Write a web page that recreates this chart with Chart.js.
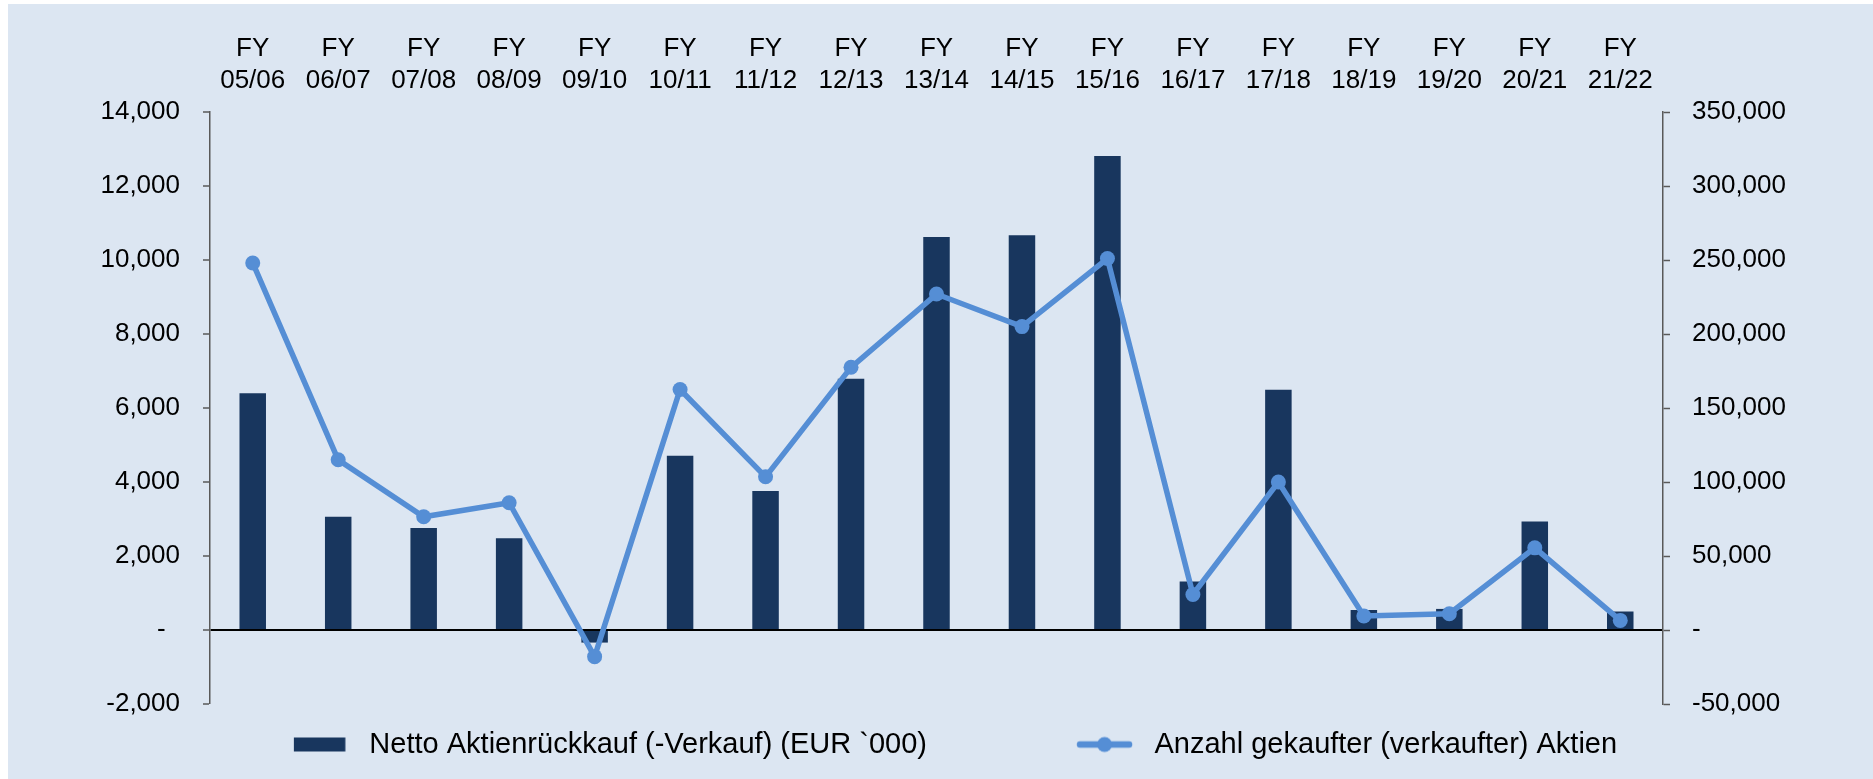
<!DOCTYPE html>
<html>
<head>
<meta charset="utf-8">
<script src="https://cdn.jsdelivr.net/npm/chart.js@4/dist/chart.umd.min.js"></script>
<style>
  html, body { margin: 0; padding: 0; background: #ffffff; }
  #wrap { position: absolute; left: 0; top: 0; width: 1873px; height: 779px; }
</style>
</head>
<body>
<div id="wrap"><canvas id="c" width="1873" height="779"></canvas></div>
<script>
// ---- data ----
const fiscalYears = ["05/06","06/07","07/08","08/09","09/10","10/11","11/12","12/13","13/14","14/15","15/16","16/17","17/18","18/19","19/20","20/21","21/22"];
const netBuyback = [6400, 3060, 2760, 2480, -340, 4710, 3760, 6790, 10620, 10670, 12810, 1310, 6490, 540, 570, 2930, 500];
const sharesBought = [248000, 115000, 76500, 86000, -18000, 162500, 103500, 177500, 227000, 205000, 251000, 24000, 100000, 9500, 11000, 55500, 6500];
const leftTicks = [-2000, 0, 2000, 4000, 6000, 8000, 10000, 12000, 14000];
const rightTicks = [-50000, 0, 50000, 100000, 150000, 200000, 250000, 300000, 350000];
const seriesNames = ["Netto Aktienrückkauf (-Verkauf) (EUR `000)", "Anzahl gekaufter (verkaufter) Aktien"];

const NAVY = '#18365E';
const LIGHT = '#558ED5';
const FONT = "'Liberation Sans', Arial, sans-serif";

Chart.defaults.font.family = FONT;
Chart.defaults.color = '#000000';

const labels = fiscalYears.map(f => ['FY', f]);
const fmt = v => v === 0 ? '-' : v.toLocaleString('en-US');

// legend images
const LW = 203;
function makeBoxImg() {
  const c = document.createElement('canvas');
  c.width = LW; c.height = 24;
  const g = c.getContext('2d');
  g.fillStyle = NAVY;
  g.fillRect(142, 5, 51.5, 14);
  return c;
}
function makeLineImg() {
  const c = document.createElement('canvas');
  c.width = LW; c.height = 24;
  const g = c.getContext('2d');
  g.strokeStyle = LIGHT; g.lineWidth = 6.5; g.lineCap = 'round';
  g.beginPath(); g.moveTo(143, 12); g.lineTo(192, 12); g.stroke();
  g.fillStyle = LIGHT;
  g.beginPath(); g.arc(167.5, 12, 7.5, 0, Math.PI * 2); g.fill();
  return c;
}
const boxImg = makeBoxImg();
const lineImg = makeLineImg();

const bgPlugin = {
  id: 'bg',
  beforeDraw(chart) {
    const ctx = chart.ctx;
    ctx.save();
    ctx.fillStyle = '#DCE6F2';
    ctx.fillRect(8, 4, chart.width - 8, chart.height - 4);
    ctx.restore();
  }
};

new Chart(document.getElementById('c'), {
  data: {
    labels: labels,
    datasets: [
      {
        type: 'bar',
        label: seriesNames[0],
        data: netBuyback,
        backgroundColor: NAVY,
        borderWidth: 0,
        yAxisID: 'yL',
        barPercentage: 0.31,
        categoryPercentage: 1.0,
        order: 2
      },
      {
        type: 'line',
        label: seriesNames[1],
        data: sharesBought,
        borderColor: LIGHT,
        backgroundColor: LIGHT,
        borderWidth: 5.5,
        pointRadius: 7.5,
        pointHoverRadius: 7.5,
        pointBackgroundColor: LIGHT,
        pointBorderWidth: 0,
        tension: 0,
        yAxisID: 'yR',
        order: 1
      }
    ]
  },
  options: {
    responsive: false,
    animation: false,
    devicePixelRatio: 1,
    layout: { padding: { left: -104, right: 0, top: 0, bottom: 10 } },
    plugins: {
      tooltip: { enabled: false },
      legend: {
        position: 'bottom',
        align: 'center',
        title: { display: true, text: '', font: { size: 10, lineHeight: 1 }, padding: 3 },
        labels: {
          usePointStyle: true,
          pointStyleWidth: LW,
          padding: 10,
          font: { size: 29, family: FONT },
          color: '#000000',
          generateLabels: () => [
            { text: seriesNames[0], pointStyle: boxImg, fillStyle: NAVY, strokeStyle: NAVY, lineWidth: 0, hidden: false, datasetIndex: 0 },
            { text: seriesNames[1], pointStyle: lineImg, fillStyle: LIGHT, strokeStyle: LIGHT, lineWidth: 0, hidden: false, datasetIndex: 1 }
          ]
        }
      }
    },
    scales: {
      x: {
        type: 'category',
        position: 'top',
        offset: true,
        grid: { display: false, drawTicks: false },
        border: { display: false },
        ticks: {
          font: { size: 26, family: FONT, lineHeight: 1.2 },
          color: '#000000',
          padding: 16,
          maxRotation: 0,
          autoSkip: false
        },
        afterFit(scale) { scale.height = 112; }
      },
      yL: {
        type: 'linear',
        position: 'left',
        min: -2000,
        max: 14000,
        afterBuildTicks(scale) { scale.ticks = leftTicks.map(v => ({ value: v })); },
        grid: {
          drawOnChartArea: true,
          color: (c) => (c.tick && c.tick.value === 0) ? '#000000' : 'rgba(0,0,0,0)',
          lineWidth: (c) => (c.tick && c.tick.value === 0) ? 2 : 0,
          drawTicks: true,
          tickLength: 7,
          tickColor: '#595959',
          tickWidth: 1.5
        },
        border: { display: true, color: '#595959', width: 1.5 },
        ticks: {
          font: { size: 26, family: FONT },
          color: '#000000',
          padding: 23,
          callback: (v) => v === 0 ? '-  ' : fmt(v)
        },
        afterFit(scale) { scale.width = 314; }
      },
      yR: {
        type: 'linear',
        position: 'right',
        min: -50000,
        max: 350000,
        afterBuildTicks(scale) { scale.ticks = rightTicks.map(v => ({ value: v })); },
        grid: {
          drawOnChartArea: false,
          drawTicks: true,
          tickLength: 7,
          color: '#595959',
          tickColor: '#595959',
          tickWidth: 1.5
        },
        border: { display: true, color: '#595959', width: 1.5 },
        ticks: {
          font: { size: 26, family: FONT },
          color: '#000000',
          padding: 22,
          callback: (v) => fmt(v)
        },
        afterFit(scale) { scale.width = 210; }
      }
    }
  },
  plugins: [bgPlugin]
});
</script>
</body>
</html>
